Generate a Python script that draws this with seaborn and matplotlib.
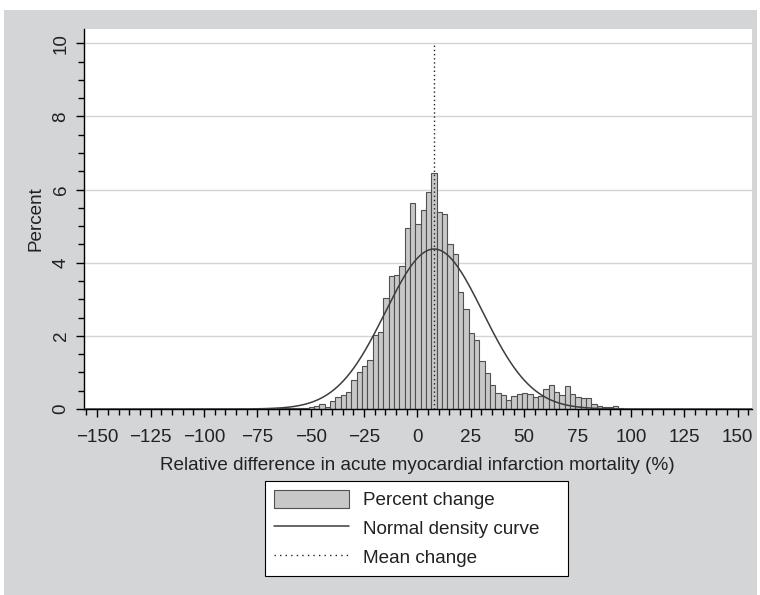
import numpy as np
import pandas as pd
import matplotlib
matplotlib.use("Agg")
import matplotlib.pyplot as plt
from matplotlib.patches import Rectangle, Patch
from matplotlib.lines import Line2D
from matplotlib.ticker import MultipleLocator
import seaborn as sns

# histogram: bins of 2.5 points starting at -78.5, heights in percent
bin_start = -78.5
bin_width = 2.5
percent = [
    0.005, 0.01, 0.01, 0.01, 0.01, 0.015, 0.02, 0.02, 0.03, 0.03,   # -78.5 .. -56
    0.04, 0.06, 0.08, 0.15, 0.06, 0.23, 0.34, 0.38, 0.47, 0.79,     # -53.5 .. -31
    1.02, 1.17, 1.35, 2.02, 2.11, 3.04, 3.63, 3.66, 3.91, 4.95,     # -28.5 .. -6
    5.64, 5.05, 5.45, 5.92, 6.44, 5.40, 5.33, 4.50, 4.23, 3.21,     # -3.5 .. 19
    2.73, 2.07, 1.90, 1.31, 0.98, 0.66, 0.43, 0.38, 0.25, 0.36,     # 21.5 .. 44
    0.40, 0.43, 0.40, 0.32, 0.36, 0.54, 0.66, 0.47, 0.38, 0.63,     # 46.5 .. 69
    0.41, 0.32, 0.29, 0.29, 0.15, 0.09, 0.06, 0.05, 0.07, 0.02,     # 71.5 .. 94
    0.01, 0.01, 0.01, 0.005, 0.01, 0.01, 0.005, 0, 0, 0,            # 96.5 .. 119
    0, 0, 0, 0, 0.01,                                               # 121.5 .. 131.5
]
mean_change = 7.8
sd_change = 22.8
x_ticks = list(range(-150, 151, 25))
y_ticks = [0, 2, 4, 6, 8, 10]
legend_labels = ["Percent change", "Normal density curve", "Mean change"]

bar_fill = "#c8c8c8"
bar_edge = "#505050"
curve_col = "#3c3c3c"
fs = 13.6

sns.set_style("white")
plt.rcParams["font.family"] = ["Liberation Sans", "DejaVu Sans"]

W, H = 760, 595
fig = plt.figure(figsize=(W / 100, H / 100), dpi=100)
fig.patches.append(Rectangle((4 / W, 0), 753 / W, 585 / H, transform=fig.transFigure,
                             facecolor="#d4d5d7", edgecolor="none", zorder=-10))
ax = fig.add_axes([83.5 / W, 1 - 409 / H, (752 - 83.5) / W, (409 - 29) / H])
ax.set_facecolor("white")

edges = [bin_start + bin_width * i for i in range(len(percent) + 1)]
hist_df = pd.DataFrame({"change": [e + bin_width / 2 for e in edges[:-1]], "pct": percent})
sns.histplot(data=hist_df, x="change", weights="pct", bins=edges, stat="count", color=bar_fill,
             edgecolor=bar_edge, linewidth=0.8, alpha=1, ax=ax, zorder=2)

xs = np.linspace(-156, 157, 800)
ys = 100 * bin_width * np.exp(-0.5 * ((xs - mean_change) / sd_change) ** 2) / (sd_change * np.sqrt(2 * np.pi))
sns.lineplot(x=xs, y=ys, color=curve_col, linewidth=1.1, ax=ax, zorder=3)
ax.vlines(mean_change, 0, 10, colors="#222222", linestyles=(0, (1, 2)), linewidth=1, zorder=4)

ax.set_xlim(-156.4, 156.7)
ax.set_ylim(0, 10.39)
ax.set_xticks(x_ticks)
ax.set_yticks(y_ticks)
ax.xaxis.set_minor_locator(MultipleLocator(5))
ax.yaxis.set_minor_locator(MultipleLocator(0.5))
ax.tick_params(which="major", direction="out", length=6, width=1, color="black",
               labelsize=fs, labelcolor="#222222", pad=8.5)
ax.tick_params(which="minor", direction="out", length=4, width=1, color="black")
ax.tick_params(axis="y", which="major", pad=4)
ax.tick_params(left=True, bottom=True, which="both")
plt.setp(ax.get_yticklabels(), rotation=90, va="center")

ax.yaxis.grid(True, color="#d4d4d4", linewidth=1)
ax.set_axisbelow(True)
for s in ["top", "right"]:
    ax.spines[s].set_visible(False)
for s in ["left", "bottom"]:
    ax.spines[s].set_color("black")
    ax.spines[s].set_linewidth(1)

ax.set_xlabel("Relative difference in acute myocardial infarction mortality (%)",
              fontsize=fs, color="#222222", labelpad=8)
ax.set_ylabel("Percent", fontsize=fs, color="#222222", labelpad=6)

handles = [Patch(facecolor=bar_fill, edgecolor=bar_edge, linewidth=0.8),
           Line2D([], [], color=curve_col, linewidth=1.1),
           Line2D([], [], color="#222222", linestyle=(0, (1, 3)), linewidth=1)]
leg = fig.legend(handles, legend_labels, loc="upper left",
                 bbox_to_anchor=(265 / W, 1 - 481 / H, (568 - 265) / W, 0), mode="expand",
                 frameon=True, fancybox=False, framealpha=1, edgecolor="black",
                 handlelength=4.0, handleheight=1.12, handletextpad=0.75, borderpad=0.45,
                 labelspacing=0.5, borderaxespad=0, fontsize=fs)
leg.get_frame().set_linewidth(0.8)
for t in leg.get_texts():
    t.set_color("#222222")

fig.savefig("out.png", dpi=100)
